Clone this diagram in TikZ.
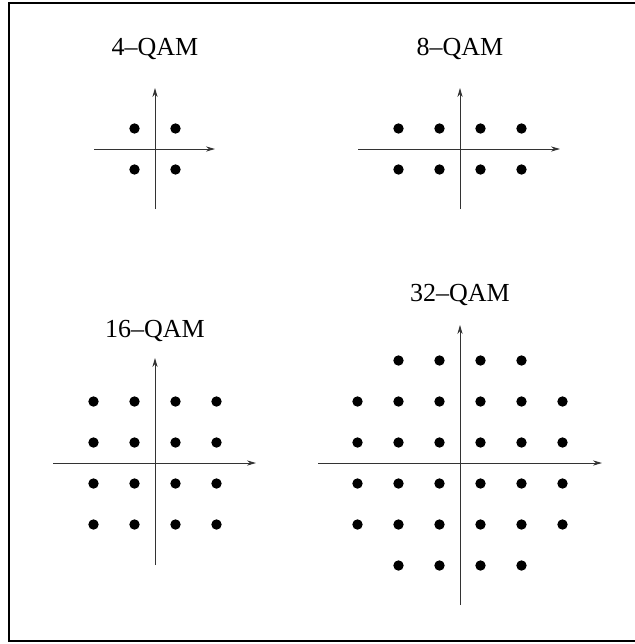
\documentclass[tikz,border=0pt]{standalone}
\usepackage{fontspec}
\setmainfont{Liberation Serif}
\usetikzlibrary{arrows.meta}
\begin{document}
\begin{tikzpicture}[x=0.5pt, y=-0.5pt, >={Stealth[length=4.5pt,width=2.6pt]},
    axis/.style={->, line width=0.45pt, black!80},
    title/.style={font=\fontsize{13}{15}\selectfont, anchor=base}]
    \useasboundingbox (0,0) rectangle (635,644);
    % 1. Khung ngoai
    \draw[line width=0.8pt] (9,3) rectangle (640,641);

    % 2. 4-QAM
    \node[title] (t4) at (155,55) {4–QAM};
    \begin{scope}[shift={(155,149)}]
        \draw[axis] (-61,0) -- (60,0);
        \draw[axis] (0,60) -- (0,-61);
        \foreach \i in {-0.5,0.5}
            \foreach \j in {-0.5,0.5}
                \fill ({41*\i},{41*\j}) circle[radius=2.6pt];
    \end{scope}

    % 3. 8-QAM
    \node[title] (t8) at (460,55) {8–QAM};
    \begin{scope}[shift={(460,149)}]
        \draw[axis] (-102,0) -- (100,0);
        \draw[axis] (0,60) -- (0,-61);
        \foreach \i in {-1.5,-0.5,0.5,1.5}
            \foreach \j in {-0.5,0.5}
                \fill ({41*\i},{41*\j}) circle[radius=2.6pt];
    \end{scope}

    % 4. 16-QAM
    \node[title] (t16) at (155,337) {16–QAM};
    \begin{scope}[shift={(155,463)}]
        \draw[axis] (-102,0) -- (101,0);
        \draw[axis] (0,102) -- (0,-105);
        \foreach \i in {-1.5,-0.5,0.5,1.5}
            \foreach \j in {-1.5,-0.5,0.5,1.5}
                \fill ({41*\i},{41*\j}) circle[radius=2.6pt];
    \end{scope}

    % 5. 32-QAM
    \node[title] (t32) at (460,301) {32–QAM};
    \begin{scope}[shift={(460,463)}]
        \draw[axis] (-142,0) -- (142,0);
        \draw[axis] (0,142) -- (0,-138);
        \foreach \i in {-1.5,-0.5,0.5,1.5}
            \foreach \j in {-2.5,-1.5,-0.5,0.5,1.5,2.5}
                \fill ({41*\i},{41*\j}) circle[radius=2.6pt];
        \foreach \i in {-2.5,2.5}
            \foreach \j in {-1.5,-0.5,0.5,1.5}
                \fill ({41*\i},{41*\j}) circle[radius=2.6pt];
    \end{scope}
\end{tikzpicture}
\end{document}
